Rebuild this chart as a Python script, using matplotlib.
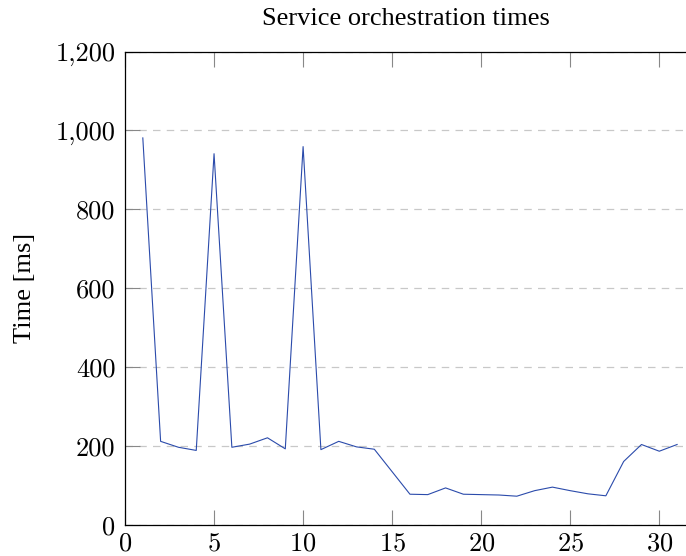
import matplotlib
matplotlib.use('Agg')
import matplotlib.pyplot as plt
from matplotlib.ticker import FuncFormatter

# service orchestration times
runs = list(range(1, 32))
times = [981, 212, 197, 189, 941, 197, 205, 221, 193, 959,
         191, 212, 198, 192, 135, 78, 77, 94, 78, 77,
         76, 73, 87, 96, 87, 79, 74, 161, 204, 187, 204]

xticks = [0, 5, 10, 15, 20, 25, 30]
yticks = [0, 200, 400, 600, 800, 1000, 1200]

plt.rcParams['font.family'] = ['cmr10', 'DejaVu Serif']
plt.rcParams['axes.formatter.use_mathtext'] = True

fig = plt.figure(figsize=(6.86, 5.56), dpi=100)
ax = fig.add_axes([125/686, 31/556, 561/686, 473.5/556])

ax.plot(runs, times, color='#2b4bab', linewidth=0.8)

ax.set_xlim(0, 31.5)
ax.set_ylim(0, 1200)
ax.set_xticks(xticks)
ax.set_yticks(yticks)
ax.yaxis.set_major_formatter(FuncFormatter(lambda v, p: '{:,}'.format(int(v))))

ax.grid(axis='y', linestyle=(0, (6, 5)), color='#c8c8c8', linewidth=0.9)
ax.tick_params(axis='x', direction='in', top=True, length=11, width=0.8,
               color='#888888', labelsize=19, pad=5)
ax.tick_params(axis='y', direction='in', length=11, width=0.8,
               color='#888888', labelsize=19, pad=7)
ax.spines['right'].set_visible(False)
for s in ['left', 'top', 'bottom']:
    ax.spines[s].set_linewidth(0.9)

serif = ['Liberation Serif', 'DejaVu Serif']
ax.set_ylabel('Time [ms]', fontsize=19, family=serif, labelpad=14)
ax.set_title('Service orchestration times', fontsize=19, family=serif, pad=19)

fig.savefig('out.png', dpi=100)
